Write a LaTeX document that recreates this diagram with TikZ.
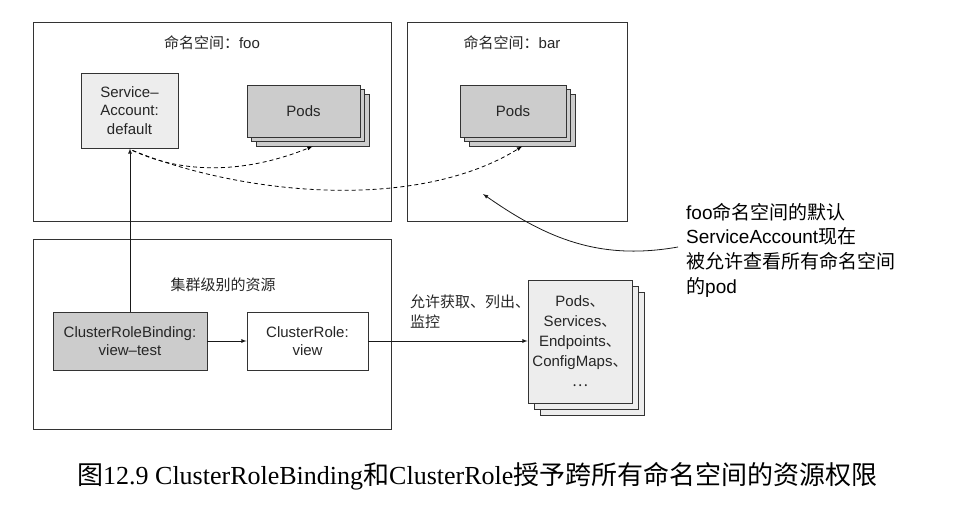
\documentclass[tikz,border=0pt]{standalone}
\usepackage{fontspec}
\setmainfont{Liberation Sans}
\newfontfamily\capfont{Liberation Serif}
\newfontfamily\cjk{Noto Sans CJK SC}
\newcommand\zh[1]{{\cjk #1}}
\definecolor{podgray}{gray}{0.8}
\definecolor{palegray}{gray}{0.93}
\definecolor{edgegray}{gray}{0.2}

\begin{document}
\begin{tikzpicture}[x=1pt,y=-1pt, arr/.style={-latex, line width=0.8pt, draw=black!90}]
\tikzset{every node/.style={font=\fontsize{15}{18.5}\selectfont, text=black!85}}
\tikzset{nsbox/.style={draw=edgegray, line width=0.9pt, inner sep=0pt, minimum height=#1}}
\tikzset{podbox/.style={draw=edgegray, fill=podgray, line width=0.9pt, inner sep=0pt, minimum height=52pt}}
\tikzset{dasharr/.style={-latex, line width=0.8pt, dash pattern=on 4pt off 3pt}}
\useasboundingbox (0,0) rectangle (979,516);

% namespaces and cluster area
\node[nsbox=199pt, minimum width=358pt] (foo) at (212,121.5) {};
\node[nsbox=199pt, minimum width=220pt] (bar) at (517,121.5) {};
\node[nsbox=190pt, minimum width=358pt] (cluster) at (212,334) {};
\node (footitle) at (212,43) {\zh{命名空间：}foo};
\node (bartitle) at (512,43) {\zh{命名空间：}bar};
\node (clustertitle) at (223,285) {\zh{集群级别的资源}};

\node[nsbox=75pt, minimum width=97pt, fill=palegray, align=center] (sa) at (129.5,110.5)
    {Service--\\Account:\\default};

\foreach \d in {9,4.5}
    \node[podbox, minimum width=113pt, xshift=\d pt, yshift=-\d pt, name=podsfoo\d] at (303.5,111) {};
\node[podbox, minimum width=113pt] (podsfoo) at (303.5,111) {Pods};
\foreach \d in {9,4.5}
    \node[podbox, minimum width=106pt, xshift=\d pt, yshift=-\d pt, name=podsbar\d] at (513,111) {};
\node[podbox, minimum width=106pt] (podsbar) at (513,111) {Pods};

\node[nsbox=58pt, minimum width=154pt, fill=podgray, align=center] (crb) at (130,341)
    {ClusterRoleBinding:\\view--test};
\node[nsbox=58pt, minimum width=121pt, fill=white, align=center] (cr) at (307.5,341)
    {ClusterRole:\\view};

\foreach \d in {12,6}
    \node[nsbox=123pt, minimum width=104pt, fill=palegray, xshift=\d pt, yshift=-\d pt] at (580,341.5) {};
\node[nsbox=123pt, minimum width=104pt, fill=palegray, align=center, font=\fontsize{15}{20}\selectfont] (res) at (580,341.5)
    {Pods\zh{、}\\Services\zh{、}\\Endpoints\zh{、}\\ConfigMaps\zh{、}\\\zh{…}};

\node[anchor=west, align=left, inner sep=0pt, font=\fontsize{15}{20}\selectfont] (verbs) at (410,312)
    {\zh{允许获取、列出、}\\\zh{监控}};

\node[anchor=west, align=left, inner sep=0pt, font=\fontsize{19}{24.7}\selectfont, text=black] (note) at (686,250)
    {foo\zh{命名空间的默认}\\ServiceAccount\zh{现在}\\\zh{被允许查看所有命名空间}\\\zh{的}pod};
\coordinate (seeall) at (483,194);
\coordinate (saout) at ([xshift=3pt, yshift=-2pt]sa.south);

\draw[arr] (crb.north) -- (crb.north |- sa.south);
\draw[arr] (crb.east) -- (cr.west);
\draw[arr] (cr.east) -- (cr.east -| res.west);
\draw[dasharr] (saout) to[out=-25, in=-158, looseness=0.9] (podsfoo9.south);
\draw[dasharr] (saout) to[out=-22, in=-148, looseness=0.8] (podsbar9.south);
\draw[arr] ([xshift=-8pt, yshift=3pt]note.west) to[out=190, in=-35] (seeall);

\node[anchor=west, inner sep=0pt, font=\capfont\fontsize{26}{30}\selectfont, text=black] (caption) at (77,476)
    {\zh{图}12.9 ClusterRoleBinding\zh{和}ClusterRole\zh{授予跨所有命名空间的资源权限}};
\end{tikzpicture}
\end{document}
